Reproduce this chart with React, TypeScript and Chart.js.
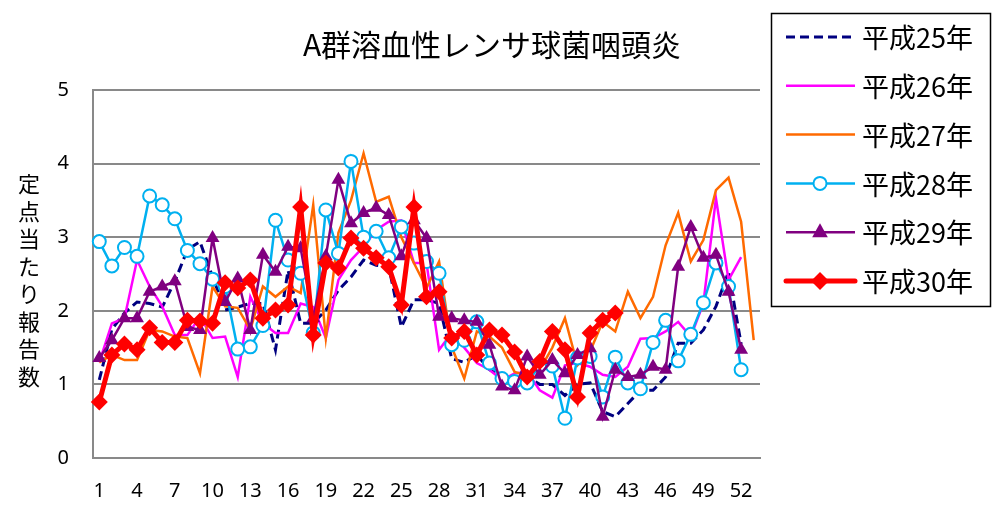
import React, { useEffect, useRef } from "react";
import { Chart, registerables } from "chart.js";

Chart.register(...registerables);

const TITLE = "A群溶血性レンサ球菌咽頭炎";
const Y_TITLE = "定点当たり報告数";
const WEEKS = Array.from({ length: 53 }, (_, i) => String(i + 1));
const Y_TICKS = [0, 1, 2, 3, 4, 5];

const H25 = [1.06, 1.75, 1.97, 2.12, 2.1, 2.05, 2.4, 2.83, 2.94, 2.46, 2.01, 2.05, 2.1, 2.1, 1.47, 2.55, 1.83, 1.83, 2.01, 2.28, 2.46, 2.69, 2.62, 2.6, 1.78, 2.15, 2.15, 2.1, 1.35, 1.3, 1.4, 1.2, 1.1, 1.0, 1.1, 1.0, 1.0, 0.85, 1.0, 1.02, 0.63, 0.56, 0.74, 0.92, 0.92, 1.1, 1.56, 1.56, 1.74, 2.06, 2.53, 1.55, null];
const H26 = [1.3, 1.83, 1.9, 2.69, 2.33, 2.06, 1.67, 1.67, 1.92, 1.63, 1.65, 1.1, 2.19, 1.83, 1.7, 1.7, 2.1, 2.05, 1.63, 2.42, 2.69, 2.87, 3.1, 3.21, 3.23, 2.65, 2.65, 1.47, 1.7, 1.5, 1.29, 1.2, 1.06, 1.15, 1.17, 0.92, 0.82, 1.26, 1.29, 1.24, 1.13, 1.1, 1.24, 1.62, 1.63, 1.72, 1.85, 1.65, 2.1, 3.53, 2.42, 2.73, null];
const H27 = [1.3, 1.4, 1.33, 1.33, 1.74, 1.72, 1.65, 1.63, 1.15, 2.33, 2.06, 2.04, 1.74, 2.33, 2.19, 2.33, 2.24, 3.44, 1.63, 3.06, 3.5, 4.14, 3.48, 3.55, 3.0, 2.65, 2.31, 2.67, 1.51, 1.08, 1.72, 1.65, 1.5, 1.17, 1.12, 1.2, 1.5, 1.9, 1.26, 1.45, 1.85, 1.72, 2.26, 1.9, 2.19, 2.89, 3.33, 2.67, 2.96, 3.64, 3.81, 3.21, 1.6];
const H28 = [2.94, 2.61, 2.86, 2.74, 3.56, 3.44, 3.25, 2.82, 2.64, 2.43, 2.33, 1.48, 1.51, 1.8, 3.23, 2.69, 2.51, 1.7, 3.37, 2.78, 4.03, 3.0, 3.08, 2.72, 3.14, 2.92, 2.67, 2.51, 1.54, 1.6, 1.85, 1.29, 1.08, 1.04, 1.02, 1.26, 1.25, 0.54, 1.36, 1.38, 0.83, 1.37, 1.02, 0.94, 1.57, 1.87, 1.32, 1.68, 2.11, 2.65, 2.33, 1.2, null];
const H29 = [1.36, 1.6, 1.9, 1.9, 2.26, 2.33, 2.4, 1.78, 1.74, 2.99, 2.12, 2.44, 1.74, 2.76, 2.53, 2.87, 2.85, 1.9, 2.74, 3.78, 3.19, 3.33, 3.4, 3.3, 2.74, 3.23, 2.99, 1.92, 1.9, 1.87, 1.85, 1.54, 0.97, 0.92, 1.38, 1.13, 1.33, 1.15, 1.4, 1.49, 0.56, 1.2, 1.1, 1.13, 1.24, 1.2, 2.6, 3.14, 2.72, 2.76, 2.26, 1.47, null];
const H30 = [0.76, 1.4, 1.55, 1.47, 1.77, 1.57, 1.57, 1.87, 1.86, 1.83, 2.38, 2.31, 2.42, 1.9, 2.01, 2.08, 3.41, 1.67, 2.65, 2.58, 2.99, 2.85, 2.72, 2.6, 2.08, 3.41, 2.19, 2.26, 1.63, 1.72, 1.4, 1.74, 1.67, 1.44, 1.1, 1.31, 1.72, 1.47, 0.83, 1.7, 1.87, 1.97];

const SERIES_NAMES = ["平成25年", "平成26年", "平成27年", "平成28年", "平成29年", "平成30年"];

const STYLES = [
  { color: "#000080", width: 3, dash: [9, 5], marker: null },
  { color: "#FF00FF", width: 2.5, dash: [], marker: null },
  { color: "#FF6A00", width: 2.5, dash: [], marker: null },
  { color: "#00B0F0", width: 2.5, dash: [], marker: "circle" },
  { color: "#800080", width: 2.5, dash: [], marker: "triangle" },
  { color: "#FF0000", width: 5, dash: [], marker: "rectRot" },
];

const CJK = '"Noto Sans CJK JP", "Noto Sans", sans-serif';
const NUM = '"Noto Sans", "Liberation Sans", sans-serif';

function drawMarker(ctx: CanvasRenderingContext2D, kind: string, x: number, y: number, color: string) {
  ctx.save();
  ctx.setLineDash([]);
  ctx.beginPath();
  if (kind === "circle") {
    ctx.arc(x, y, 6.5, 0, Math.PI * 2);
    ctx.fillStyle = "#fff";
    ctx.fill();
    ctx.lineWidth = 2;
    ctx.strokeStyle = color;
    ctx.stroke();
  } else if (kind === "triangle") {
    const r = 9;
    ctx.moveTo(x, y - r);
    ctx.lineTo(x + r * 0.87, y + r * 0.55);
    ctx.lineTo(x - r * 0.87, y + r * 0.55);
    ctx.closePath();
    ctx.fillStyle = color;
    ctx.fill();
  } else if (kind === "rectRot") {
    const r = 9;
    ctx.moveTo(x, y - r);
    ctx.lineTo(x + r, y);
    ctx.lineTo(x, y + r);
    ctx.lineTo(x - r, y);
    ctx.closePath();
    ctx.fillStyle = color;
    ctx.fill();
  }
  ctx.restore();
}

const decorPlugin = {
  id: "decor",
  afterDraw(chart: any) {
    const ctx: CanvasRenderingContext2D = chart.ctx;
    ctx.save();
    ctx.fillStyle = "#000";
    ctx.font = `30px ${CJK}`;
    ctx.textAlign = "center";
    ctx.textBaseline = "middle";
    ctx.fillText(TITLE, 492, 45);
    ctx.font = `22px ${CJK}`;
    const chars = Array.from(Y_TITLE);
    chars.forEach((c, i) => ctx.fillText(c, 29, 184 + i * 27.5));
    ctx.strokeStyle = "#000";
    ctx.lineWidth = 1.5;
    ctx.strokeRect(771.5, 13.5, 219, 293);
    ctx.textAlign = "left";
    ctx.font = `27px ${CJK}`;
    SERIES_NAMES.forEach((name, i) => {
      const y = 37 + i * 48.8;
      const st = STYLES[i];
      ctx.save();
      ctx.strokeStyle = st.color;
      ctx.lineWidth = st.width;
      ctx.setLineDash(st.dash);
      ctx.lineCap = st.width >= 4 ? "round" : "butt";
      ctx.beginPath();
      ctx.moveTo(786, y);
      ctx.lineTo(855, y);
      ctx.stroke();
      ctx.restore();
      if (st.marker) drawMarker(ctx, st.marker, 820, y, st.color);
      ctx.fillStyle = "#000";
      ctx.fillText(name, 862, y + 1);
    });
    ctx.restore();
  },
};

export default function App() {
  const ref = useRef<HTMLCanvasElement>(null);
  useEffect(() => {
    if (!ref.current) return;
    const all = [H25, H26, H27, H28, H29, H30];
    const datasets = all.map((d, i) => {
      const st = STYLES[i];
      return {
        label: SERIES_NAMES[i],
        data: d,
        borderColor: st.color,
        backgroundColor: st.marker === "circle" ? "#FFFFFF" : st.color,
        borderWidth: st.width,
        borderDash: st.dash,
        pointStyle: st.marker || "circle",
        pointRadius: st.marker ? (st.marker === "circle" ? 6.5 : st.marker === "triangle" ? 8 : 8.5) : 0,
        pointBorderWidth: st.marker === "circle" ? 2 : 0,
        pointBorderColor: st.color,
        pointBackgroundColor: st.marker === "circle" ? "#FFFFFF" : st.color,
        pointHoverRadius: 0,
        tension: 0,
        spanGaps: false,
        order: 5 - i,
        fill: false,
      };
    });
    const chart = new Chart(ref.current, {
      type: "line",
      data: { labels: WEEKS, datasets },
      options: {
        animation: false,
        responsive: false,
        events: [],
        layout: { padding: { top: 90, right: 235, left: 0, bottom: 0 } },
        plugins: { legend: { display: false }, tooltip: { enabled: false }, title: { display: false } },
        scales: {
          x: {
            type: "category",
            offset: true,
            grid: { display: false, drawTicks: false },
            border: { display: true, color: "#898989", width: 2 },
            ticks: {
              autoSkip: false,
              maxRotation: 0,
              color: "#000",
              font: { size: 20, family: NUM },
              padding: 21,
              callback: (_v: any, idx: number) => (idx % 3 === 0 ? WEEKS[idx] : ""),
            },
            afterFit: (s: any) => { s.height = 48; },
          },
          y: {
            min: Y_TICKS[0],
            max: Y_TICKS[Y_TICKS.length - 1],
            grid: { color: "#898989", lineWidth: 2, drawTicks: false },
            border: { display: true, color: "#898989", width: 2 },
            ticks: {
              stepSize: 1,
              color: "#000",
              font: { size: 20, family: NUM },
              padding: 24,
            },
            afterFit: (s: any) => { s.width = 93; },
          },
        },
      },
      plugins: [decorPlugin],
    });
    return () => chart.destroy();
  }, []);
  return (
    <div style={{ position: "absolute", left: 0, top: 0, width: 995, height: 506, background: "#fff" }}>
      <canvas ref={ref} width={995} height={506} style={{ display: "block" }} />
    </div>
  );
}
